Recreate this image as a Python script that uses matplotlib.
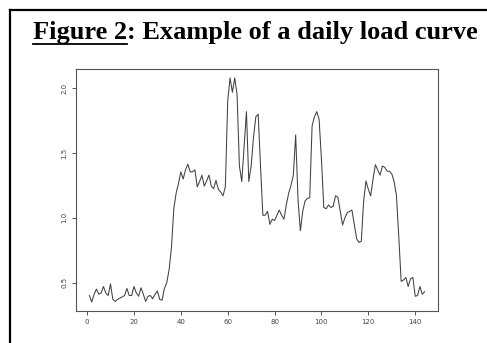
import numpy as np
import matplotlib
matplotlib.use('Agg')
import matplotlib.pyplot as plt

# ── Data: daily load curve, 144 ten-minute steps ─────────────────────────────
load = [
    0.40, 0.35, 0.41, 0.45, 0.41, 0.42, 0.47, 0.42, 0.40, 0.49,   # 1-10
    0.37, 0.355, 0.37, 0.38, 0.39, 0.40, 0.455, 0.40, 0.40, 0.47,  # 11-20
    0.42, 0.395, 0.46, 0.41, 0.355, 0.395, 0.40, 0.375, 0.41, 0.435,  # 21-30
    0.37, 0.365, 0.455, 0.50, 0.60, 0.77, 1.07, 1.19, 1.265, 1.355,  # 31-40
    1.30, 1.37, 1.415, 1.355, 1.355, 1.37, 1.24, 1.28, 1.33, 1.245,  # 41-50
    1.285, 1.33, 1.245, 1.225, 1.29, 1.22, 1.20, 1.17, 1.24, 1.90,  # 51-60
    2.08, 1.97, 2.08, 1.95, 1.40, 1.28, 1.55, 1.82, 1.28, 1.40,    # 61-70
    1.62, 1.78, 1.80, 1.40, 1.02, 1.02, 1.05, 0.95, 0.99, 0.98,    # 71-80
    1.02, 1.06, 1.02, 0.99, 1.10, 1.19, 1.25, 1.33, 1.64, 1.14,    # 81-90
    0.90, 1.05, 1.13, 1.15, 1.155, 1.71, 1.78, 1.82, 1.76, 1.45,   # 91-100
    1.08, 1.07, 1.10, 1.08, 1.09, 1.17, 1.16, 1.05, 0.945, 1.00,   # 101-110
    1.04, 1.05, 1.06, 0.95, 0.84, 0.81, 0.82, 1.13, 1.285, 1.22,   # 111-120
    1.17, 1.30, 1.41, 1.37, 1.33, 1.40, 1.39, 1.36, 1.36, 1.34,    # 121-130
    1.28, 1.17, 0.85, 0.51, 0.52, 0.54, 0.47, 0.53, 0.54, 0.395,   # 131-140
    0.40, 0.47, 0.41, 0.43,                                         # 141-144
]
steps = np.arange(1, len(load) + 1)

x_ticks = [0, 20, 40, 60, 80, 100, 120, 140]
y_ticks = [0.5, 1.0, 1.5, 2.0]
y_tick_labels = ['0.5', '1.0', '1.5', '2.0']

TITLE_A = 'Figure 2'
TITLE_B = ': Example of a daily load curve'

# ── Figure ───────────────────────────────────────────────────────────────────
W, H = 487, 343
fig = plt.figure(figsize=(W / 100, H / 100), dpi=100, facecolor='white')

# page border (left + top)
fig.add_artist(plt.Line2D([9.5 / W, 9.5 / W], [0, 1 - 10 / H],
               transform=fig.transFigure, color='black', lw=1.6))
fig.add_artist(plt.Line2D([9.5 / W, 1], [1 - 10 / H, 1 - 10 / H],
               transform=fig.transFigure, color='black', lw=1.6))

# ── Title with underlined "Figure 2" ─────────────────────────────────────────
# fit the whole title into the 33..477 px span seen in the reference
renderer = fig.canvas.get_renderer()
probe = fig.text(0, 0, TITLE_A + TITLE_B, fontsize=20, fontweight='bold',
                 family='Liberation Serif')
fs = 20 * 444 / probe.get_window_extent(renderer).width
probe.remove()

tprops = dict(fontsize=fs, fontweight='bold', family='Liberation Serif',
              va='baseline', ha='left', color='black')
base_y = 1 - 39 / H
x0 = 33 / W
ta = fig.text(x0, base_y, TITLE_A, **tprops)
wa = ta.get_window_extent(renderer).width / W
tb = fig.text(x0 + wa, base_y, TITLE_B, **tprops)
fig.add_artist(plt.Line2D([x0, x0 + wa], [1 - 43.5 / H, 1 - 43.5 / H],
               transform=fig.transFigure, color='black', lw=1.3))

# ── Plot area ────────────────────────────────────────────────────────────────
ax = fig.add_axes([76 / W, 1 - 311 / H, 362 / W, 242 / H])
ax.plot(steps, load, color='#404040', lw=0.75)

span = max(steps) - min(steps)
ax.set_xlim(min(steps) - 0.04 * span, max(steps) + 0.04 * span)
yspan = max(load) - min(load)
ax.set_ylim(min(load) - 0.04 * yspan, max(load) + 0.04 * yspan)

ax.set_xticks(x_ticks)
ax.set_yticks(y_ticks)
ax.set_yticklabels(y_tick_labels, rotation=90, va='center')

for s in ax.spines.values():
    s.set_color('#555555')
    s.set_linewidth(0.8)
ax.tick_params(axis='both', colors='#555555', labelcolor='#444444',
               labelsize=5, length=3, width=0.7, pad=3)

fig.savefig('out.png', dpi=100, facecolor='white')
